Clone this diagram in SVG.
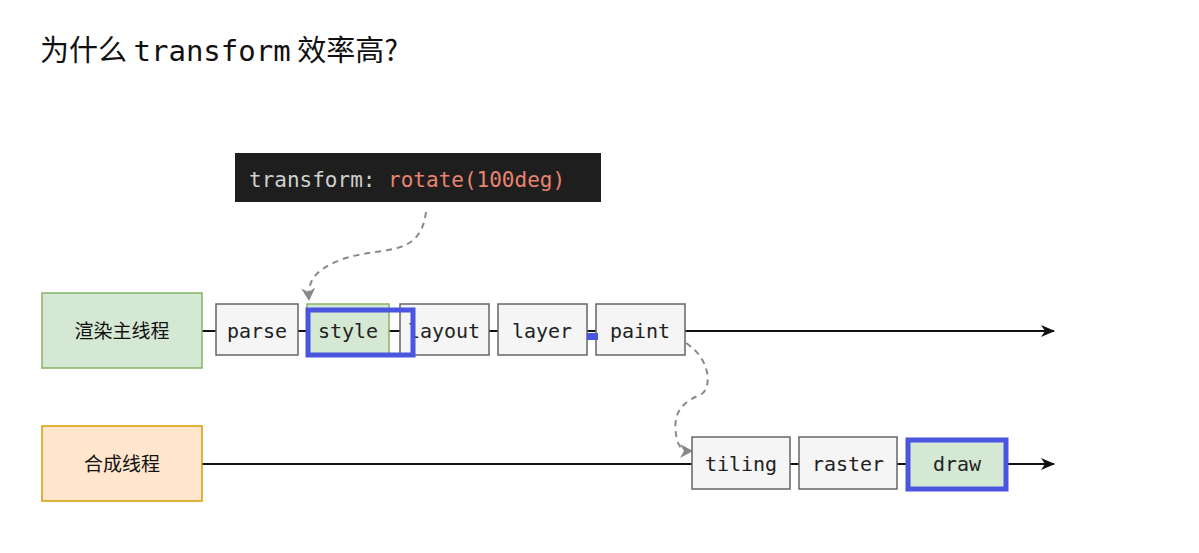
<svg xmlns="http://www.w3.org/2000/svg" width="1199" height="553" viewBox="0 0 1199 553">
<style>
.box{fill:#f5f5f5;stroke:#666;stroke-width:1.5}
.m{font-family:"DejaVu Sans Mono","Liberation Mono",monospace;font-size:20px;fill:#222;text-anchor:middle}
.cn{font-family:"Noto Sans CJK SC",sans-serif;font-size:19px;fill:#111;text-anchor:middle}
.ln{stroke:#111;stroke-width:2;fill:none}
.ds{stroke:#888;stroke-width:2;fill:none;stroke-dasharray:6 5}
.hl{fill:none;stroke:#4a55e0;stroke-width:5}
</style>
<defs>
<marker id="a" markerWidth="14" markerHeight="12" refX="13" refY="6" orient="auto" markerUnits="userSpaceOnUse"><path d="M0,0 L14,6 L0,12 L4,6 z" fill="#111"/></marker>
<marker id="g" markerWidth="14" markerHeight="14" refX="12" refY="7" orient="auto" markerUnits="userSpaceOnUse"><path d="M0,0 L13,7 L0,14 L4,7 z" fill="#888"/></marker>
</defs>
<rect width="1199" height="553" fill="#fff"/>
<text x="40" y="61" font-family="Noto Sans CJK SC,sans-serif" font-size="29" fill="#111">为什么 <tspan font-family="DejaVu Sans Mono,monospace">transform</tspan> 效率高?</text>
<g id="connectors">
<line class="ln" x1="202" y1="331" x2="1054" y2="331" marker-end="url(#a)"/>
<line class="ln" x1="202" y1="464" x2="1054" y2="464" marker-end="url(#a)"/>
<path class="ds" d="M426,212 C420,260 380,245 340,260 C310,272 308,285 309,300" marker-end="url(#g)"/>
<path class="ds" d="M686,343 C712,360 712,390 700,395 C675,405 673,420 677,440 C680,450 685,451 692,451" marker-end="url(#g)"/>
</g>
<g id="code"><rect x="235" y="153" width="366" height="49" fill="#1e1e1e"/>
<text x="249" y="187" font-family="DejaVu Sans Mono,monospace" font-size="21" fill="#d0d0d0">transform: <tspan fill="#e8836f">rotate(100deg)</tspan></text></g>
<g id="main"><rect x="42" y="293" width="160" height="75" fill="#d5e8d4" stroke="#82b366" stroke-width="1.5"/><text class="cn" x="122" y="338">渲染主线程</text></g>
<g id="comp"><rect x="42" y="426" width="160" height="75" fill="#ffe6cc" stroke="#d79b00" stroke-width="1.5"/><text class="cn" x="122" y="471">合成线程</text></g>
<g id="parse"><rect class="box" x="216" y="304" width="82" height="51"/><text class="m" x="257" y="338">parse</text></g>
<g id="style"><rect x="307" y="304" width="82" height="51" fill="#d5e8d4" stroke="#82b366" stroke-width="1.5"/><text class="m" x="348" y="338">style</text></g>
<g id="layout"><rect class="box" x="400" y="304" width="89" height="51"/><text class="m" x="444" y="338">layout</text></g>
<g id="layer"><rect class="box" x="498" y="304" width="89" height="51"/><text class="m" x="542" y="338">layer</text></g>
<g id="paint"><rect class="box" x="596" y="304" width="89" height="51"/><text class="m" x="640" y="338">paint</text></g>
<rect class="hl" x="308" y="310" width="105" height="45"/>
<rect x="587" y="333" width="11" height="7" fill="#4a55e0"/>
<g id="tiling"><rect class="box" x="692" y="437" width="98" height="52"/><text class="m" x="741" y="471">tiling</text></g>
<g id="raster"><rect class="box" x="799" y="437" width="98" height="52"/><text class="m" x="848" y="471">raster</text></g>
<g id="draw"><rect x="908" y="440" width="98" height="49" fill="#d5e8d4" stroke="#4a55e0" stroke-width="5"/><text class="m" x="957" y="471">draw</text></g>
</svg>
